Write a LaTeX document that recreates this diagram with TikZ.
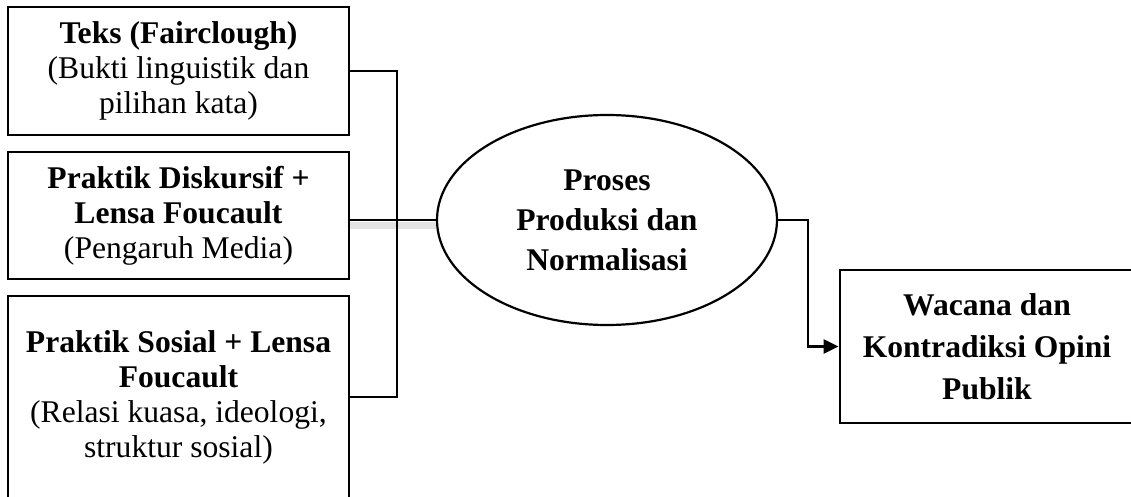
\documentclass[tikz,border=0pt]{standalone}
\usepackage{fontspec}
\setmainfont{Liberation Serif}
\usetikzlibrary{arrows.meta, positioning, shapes.geometric}

\tikzset{
    box/.style={draw, line width=1.4pt, align=center, inner sep=0pt,
        font=\fontsize{15.8}{17.5}\selectfont},
    proc/.style={draw, ellipse, line width=1.1pt, align=center, inner sep=0pt,
        font=\fontsize{15.8}{20}\selectfont\bfseries},
    link/.style={line width=1.2pt}
}

\begin{document}
\begin{tikzpicture}[x=0.5pt, y=-0.5pt]
    % Define the page size (pixels of the reference)
    \useasboundingbox (0,0) rectangle (1131,497);

    % Left boxes
    \node[box, minimum width=170.5pt, minimum height=64pt] (teks) at (178.5,71)
        {\textbf{Teks (Fairclough)}\\(Bukti linguistik dan\\pilihan kata)};
    \node[box, minimum width=170.5pt, minimum height=63.5pt] (diskursif) at (178.5,215.5)
        {\textbf{Praktik Diskursif +}\\\textbf{Lensa Foucault}\\(Pengaruh Media)};
    \node[box, minimum width=170.5pt, minimum height=101pt] (sosial) at (178.5,397)
        {\textbf{Praktik Sosial + Lensa}\\\textbf{Foucault}\\(Relasi kuasa, ideologi,\\struktur sosial)};

    % Middle ellipse
    \node[proc, minimum width=170pt, minimum height=105pt] (proses) at (607,220)
        {Proses\\Produksi dan\\Normalisasi};

    % Right box
    \node[box, minimum width=147pt, minimum height=76.5pt,
        font=\fontsize{15.8}{21}\selectfont\bfseries] (wacana) at (987,346.5)
        {Wacana dan\\Kontradiksi Opini\\Publik};

    % Connectors
    \coordinate (join) at (397,220);
    \coordinate (turn) at (808,220);
    \draw[gray!22, line width=3.5pt] ([yshift=-3pt]proses.west -| diskursif.east) -- ([yshift=-3pt]proses.west);
    \draw[link] (teks.east) -| (join) |- (sosial.east);
    \draw[link] (proses.west -| diskursif.east) -- (proses.west);
    \draw[link, -{Triangle[length=7.5pt, width=7pt]}] (proses.east) -- (turn) |- (wacana.west);

\end{tikzpicture}
\end{document}
